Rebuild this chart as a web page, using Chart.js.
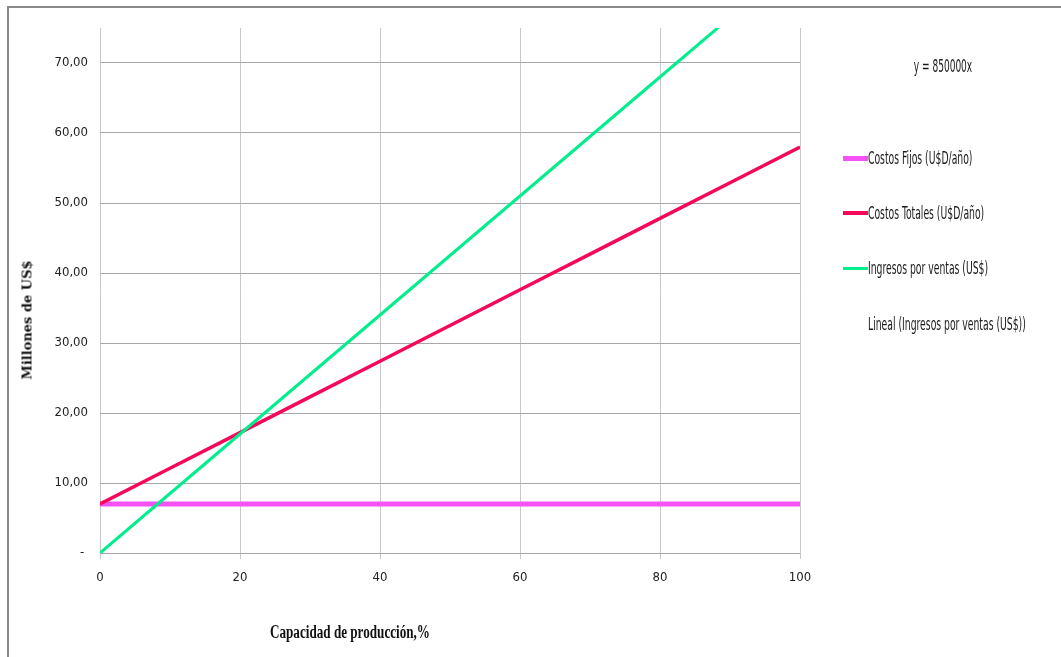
<!DOCTYPE html>
<html>
<head>
<meta charset="utf-8">
<script src="https://cdn.jsdelivr.net/npm/chart.js@4"></script>
<style>
    body { margin: 0; background: #fff; overflow: hidden; }
    #wrap { position: relative; width: 1061px; height: 657px; }
    #frame { position: absolute; left: 7px; top: 6px; width: 1100px; height: 700px; border: 2px solid #8a8a8a; }
    canvas { position: absolute; left: 0; top: 0; }
    .narrow { font-family: 'Liberation Sans Narrow', 'DejaVu Sans Condensed', 'Roboto Condensed', sans-serif; color: #1a1a1a; }
    .lbl { position: absolute; font-size: 17px; white-space: nowrap; transform-origin: left center; }
    .swatch { position: absolute; width: 25px; }
    #yTitle { position: absolute; left: 27px; top: 320px; font-family: 'DejaVu Serif', serif; font-weight: bold; font-size: 13px; white-space: nowrap; transform: translate(-50%, -50%) rotate(-90deg); color: #111; }
    #xTitle { position: absolute; left: 350px; top: 632px; font-family: 'Liberation Serif', serif; font-weight: bold; font-size: 18px; white-space: nowrap; transform: translate(-50%, -50%) scaleX(0.73); color: #111; }
</style>
</head>
<body>
<div id="wrap">
    <div id="frame"></div>
    <canvas id="chart" width="1061" height="657"></canvas>
    <div id="yTitle">Millones de US$</div>
    <div id="xTitle">Capacidad de producción,%</div>
    <div class="lbl narrow" style="left:943px; top:66px; transform-origin:center center; transform:translate(-50%,-50%) scaleX(0.59);">y = 850000x</div>
    <div id="legend"></div>
</div>

<script>
// Capacidad de producción (%)
const capacidad = [0, 10, 20, 30, 40, 50, 60, 70, 80, 90, 100];
// Millones de US$
const costosFijos = [7, 7, 7, 7, 7, 7, 7, 7, 7, 7, 7];
const costosTotales = [7, 12.1, 17.2, 22.3, 27.4, 32.5, 37.6, 42.7, 47.8, 52.9, 58];
const ingresos = [0, 8.5, 17, 25.5, 34, 42.5, 51, 59.5, 68, 76.5, 85];
const xTicks = [0, 20, 40, 60, 80, 100];
const yTicks = [0, 10, 20, 30, 40, 50, 60, 70];

const seriesNames = ['Costos Fijos (U$D/año)', 'Costos Totales (U$D/año)', 'Ingresos por ventas (US$)', 'Lineal (Ingresos por ventas (US$))'];
const seriesColors = ['#f552f5', '#f5085c', '#00ee8c', null];
const seriesWidths = [5, 3.5, 3, 0];

const narrowFont = "'Liberation Sans Narrow', 'DejaVu Sans Condensed', 'Roboto Condensed', sans-serif";

function toPoints(values) {
    return capacidad.map((x, i) => ({ x: x, y: values[i] }));
}

/**
 * Builds the HTML legend on the right side.
 */
function buildLegend() {
    const legend = document.getElementById('legend');
    const rowsY = [158, 213, 268, 324];
    let html = '';
    seriesNames.forEach((name, i) => {
        if (seriesColors[i]) {
            html += `<div class="swatch" style="left:843px; top:${rowsY[i] - seriesWidths[i] / 2}px; height:${seriesWidths[i]}px; background:${seriesColors[i]};"></div>`;
        }
        html += `<div class="lbl narrow" style="left:868px; top:${rowsY[i]}px; transform:translateY(-50%) scaleX(0.605);">${name}</div>`;
    });
    legend.innerHTML = html;
}

function formatY(value) {
    if (value === 0) return '- ';
    return value.toFixed(2).replace('.', ',');
}

document.addEventListener('DOMContentLoaded', function() {
    buildLegend();

    const ctx = document.getElementById('chart').getContext('2d');
    new Chart(ctx, {
        type: 'line',
        data: {
            datasets: [
                {
                    label: seriesNames[0],
                    data: toPoints(costosFijos),
                    borderColor: seriesColors[0],
                    borderWidth: seriesWidths[0],
                    pointRadius: 0,
                    order: 3
                },
                {
                    label: seriesNames[1],
                    data: toPoints(costosTotales),
                    borderColor: seriesColors[1],
                    borderWidth: seriesWidths[1],
                    pointRadius: 0,
                    order: 2
                },
                {
                    label: seriesNames[2],
                    data: toPoints(ingresos),
                    borderColor: seriesColors[2],
                    borderWidth: seriesWidths[2],
                    pointRadius: 0,
                    order: 1
                }
            ]
        },
        options: {
            responsive: false,
            animation: false,
            layout: { padding: { top: 28, right: 261, left: 0, bottom: 0 } },
            plugins: {
                legend: { display: false },
                tooltip: { enabled: false }
            },
            scales: {
                x: {
                    type: 'linear',
                    min: 0,
                    max: 100,
                    afterFit: axis => { axis.height = 104; },
                    afterBuildTicks: axis => { axis.ticks = xTicks.map(v => ({ value: v })); },
                    border: { display: false },
                    grid: { color: '#c8c8c8', lineWidth: 1, tickLength: 6 },
                    ticks: {
                        padding: 11,
                        color: '#222',
                        font: { family: narrowFont, size: 13 },
                        maxRotation: 0
                    }
                },
                y: {
                    type: 'linear',
                    min: 0,
                    max: 75,
                    afterFit: axis => { axis.width = 100; },
                    afterBuildTicks: axis => { axis.ticks = yTicks.map(v => ({ value: v })); },
                    border: { display: false },
                    grid: { color: '#a8a8a8', lineWidth: 1, drawTicks: false },
                    ticks: {
                        padding: 12,
                        color: '#222',
                        font: { family: narrowFont, size: 13 },
                        callback: formatY
                    }
                }
            }
        }
    });
});
</script>
</body>
</html>
